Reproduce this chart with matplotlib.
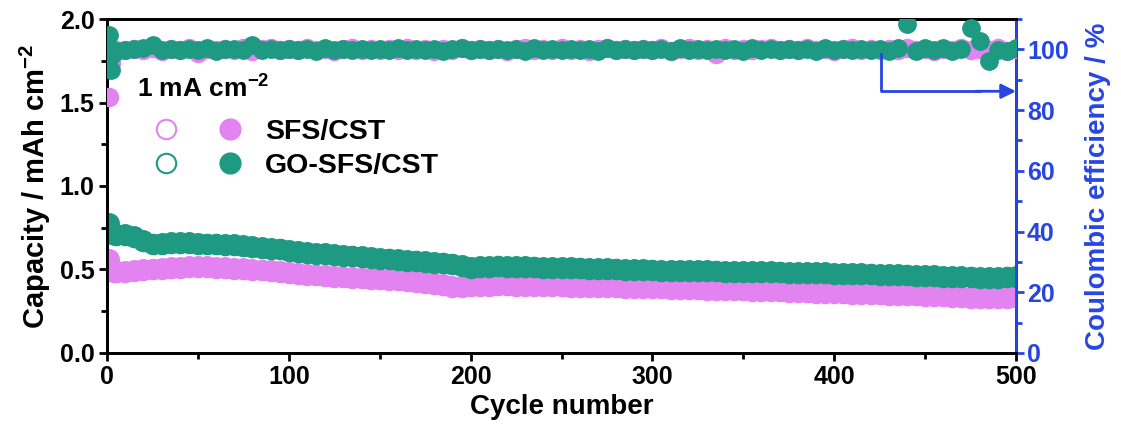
import matplotlib
matplotlib.use("Agg")
import matplotlib.pyplot as plt
from matplotlib.lines import Line2D
from matplotlib.legend_handler import HandlerTuple

plt.rcParams['font.family'] = ['Liberation Sans', 'DejaVu Sans']
plt.rcParams['font.weight'] = 'bold'
plt.rcParams['mathtext.fontset'] = 'custom'
plt.rcParams['mathtext.rm'] = 'Liberation Sans:bold'
plt.rcParams['mathtext.bf'] = 'Liberation Sans:bold'
plt.rcParams['mathtext.default'] = 'bf'

PINK = '#E383F2'
GREEN = '#1F9A82'
BLUE = '#2745E3'

cycles = [1, 2, 3, 4, 5] + list(range(10, 501, 5))

# GO-SFS/CST capacity (mAh cm-2)
go_dis = [0.78, 0.73, 0.72, 0.72, 0.71,
          0.71, 0.70, 0.675, 0.655, 0.66, 0.665, 0.665, 0.665, 0.66, 0.655,
          0.655, 0.65, 0.65, 0.645, 0.64, 0.635, 0.63, 0.625, 0.615, 0.61,
          0.605, 0.60, 0.597, 0.592, 0.588, 0.583, 0.578, 0.574, 0.57, 0.565,
          0.561, 0.557, 0.553, 0.55, 0.546, 0.541, 0.535, 0.527, 0.515, 0.518,
          0.522, 0.523, 0.521, 0.52, 0.519, 0.517, 0.516, 0.515, 0.514, 0.512,
          0.511, 0.51, 0.508, 0.507, 0.505, 0.504, 0.503, 0.501, 0.499, 0.498,
          0.497, 0.496, 0.495, 0.494, 0.494, 0.493, 0.492, 0.491, 0.49, 0.49,
          0.489, 0.488, 0.487, 0.486, 0.485, 0.484, 0.483, 0.482, 0.481, 0.48,
          0.479, 0.477, 0.476, 0.474, 0.473, 0.471, 0.47, 0.468, 0.466, 0.465,
          0.463, 0.462, 0.46, 0.458, 0.457, 0.456, 0.456, 0.458, 0.462]
go_chg = [0.72, 0.72, 0.715, 0.71, 0.705,
          0.705, 0.695, 0.67, 0.65, 0.655, 0.66, 0.66, 0.66, 0.655, 0.65,
          0.65, 0.645, 0.645, 0.64, 0.635, 0.63, 0.625, 0.62, 0.61, 0.605,
          0.60, 0.595, 0.592, 0.587, 0.583, 0.578, 0.573, 0.569, 0.565, 0.56,
          0.556, 0.552, 0.548, 0.545, 0.541, 0.536, 0.53, 0.522, 0.51, 0.513,
          0.517, 0.518, 0.516, 0.515, 0.514, 0.512, 0.511, 0.51, 0.509, 0.507,
          0.506, 0.505, 0.503, 0.502, 0.5, 0.499, 0.498, 0.496, 0.494, 0.493,
          0.492, 0.491, 0.49, 0.489, 0.489, 0.488, 0.487, 0.486, 0.485, 0.485,
          0.484, 0.483, 0.482, 0.481, 0.48, 0.479, 0.478, 0.477, 0.476, 0.475,
          0.474, 0.472, 0.471, 0.469, 0.468, 0.466, 0.465, 0.463, 0.461, 0.46,
          0.458, 0.457, 0.455, 0.453, 0.452, 0.451, 0.451, 0.453, 0.457]

# SFS/CST capacity (mAh cm-2)
sfs_dis = [0.56, 0.52, 0.50, 0.49, 0.49,
           0.49, 0.495, 0.50, 0.505, 0.51, 0.514, 0.516, 0.518, 0.519, 0.518,
           0.516, 0.513, 0.51, 0.507, 0.503, 0.499, 0.495, 0.489, 0.482, 0.478,
           0.474, 0.47, 0.466, 0.462, 0.458, 0.455, 0.452, 0.449, 0.446, 0.443,
           0.44, 0.436, 0.432, 0.427, 0.421, 0.412, 0.403, 0.401, 0.405, 0.408,
           0.409, 0.41, 0.41, 0.409, 0.408, 0.407, 0.406, 0.405, 0.404, 0.403,
           0.402, 0.401, 0.4, 0.399, 0.398, 0.397, 0.396, 0.395, 0.393, 0.392,
           0.39, 0.389, 0.387, 0.386, 0.385, 0.383, 0.382, 0.381, 0.38, 0.379,
           0.377, 0.376, 0.374, 0.372, 0.37, 0.368, 0.367, 0.365, 0.363, 0.362,
           0.36, 0.359, 0.358, 0.356, 0.355, 0.353, 0.352, 0.35, 0.348, 0.347,
           0.345, 0.343, 0.34, 0.337, 0.335, 0.334, 0.335, 0.337, 0.34]
sfs_chg = [0.53, 0.51, 0.495, 0.487, 0.487,
           0.487, 0.49, 0.496, 0.5, 0.505, 0.509, 0.511, 0.513, 0.514, 0.513,
           0.511, 0.508, 0.505, 0.502, 0.498, 0.494, 0.49, 0.484, 0.477, 0.473,
           0.469, 0.465, 0.461, 0.457, 0.453, 0.45, 0.447, 0.444, 0.441, 0.438,
           0.435, 0.431, 0.427, 0.422, 0.416, 0.407, 0.398, 0.396, 0.4, 0.403,
           0.404, 0.405, 0.405, 0.404, 0.403, 0.402, 0.401, 0.4, 0.399, 0.398,
           0.397, 0.396, 0.395, 0.394, 0.393, 0.392, 0.391, 0.39, 0.388, 0.387,
           0.385, 0.384, 0.382, 0.381, 0.38, 0.378, 0.377, 0.376, 0.375, 0.374,
           0.372, 0.371, 0.369, 0.367, 0.365, 0.363, 0.362, 0.36, 0.358, 0.357,
           0.355, 0.354, 0.353, 0.351, 0.35, 0.348, 0.347, 0.345, 0.343, 0.342,
           0.34, 0.338, 0.335, 0.332, 0.33, 0.329, 0.33, 0.332, 0.335]

# Coulombic efficiency (%)
sfs_ce = [84.3, 95.5, 99.0, 99.6, 99.8,
          99.9, 100.2, 99.7, 100.4, 99.6, 100.1, 99.8, 100.3, 98.8, 100.0,
          99.7, 100.2, 99.9, 100.3, 99.6, 100.0, 100.4, 99.8, 100.1, 99.7,
          100.3, 99.9, 100.2, 99.6, 100.0, 100.3, 99.8, 100.1, 99.7, 100.2,
          99.9, 100.4, 99.8, 100.0, 99.6, 100.2, 99.9, 100.3, 99.7, 100.1,
          99.8, 100.2, 99.6, 100.0, 100.3, 99.8, 100.1, 99.7, 100.4, 99.9,
          100.2, 99.6, 100.0, 100.3, 99.8, 100.1, 99.7, 100.2, 99.9, 100.3,
          99.6, 100.0, 100.4, 99.8, 100.1, 98.5, 100.3, 99.9, 100.2, 99.7,
          100.0, 100.3, 99.8, 100.1, 99.7, 100.4, 99.9, 100.2, 99.6, 100.0,
          100.3, 99.8, 100.1, 99.7, 100.2, 99.9, 100.4, 99.8, 100.0, 99.6,
          100.2, 99.9, 100.3, 99.7, 100.1, 99.8, 100.4, 99.6, 100.2]
go_ce = [104.7, 93.2, 98.5, 99.3, 99.6,
         99.8, 100.0, 100.4, 101.5, 99.9, 100.2, 99.7, 100.1, 99.8, 100.3,
         99.6, 100.0, 100.2, 99.8, 101.6, 99.9, 100.1, 99.7, 100.2, 99.8,
         100.0, 99.6, 100.3, 99.9, 100.1, 99.7, 100.2, 99.8, 100.0, 99.9,
         100.3, 99.7, 100.1, 99.8, 100.2, 99.6, 100.0, 100.3, 99.8, 100.1,
         99.7, 100.2, 99.9, 100.0, 99.6, 100.3, 99.8, 100.1, 99.7, 100.2,
         99.9, 100.0, 99.6, 100.3, 99.8, 100.1, 99.7, 100.2, 99.9, 100.0,
         99.6, 100.3, 99.8, 100.1, 99.7, 100.2, 99.9, 100.0, 99.6, 100.3,
         99.8, 100.1, 99.7, 100.2, 99.9, 100.0, 99.6, 100.3, 99.8, 100.1,
         99.7, 100.2, 99.9, 100.0, 99.3, 100.4, 108.2, 99.6, 100.6, 99.8,
         100.3, 99.6, 100.2, 107.2, 102.8, 96.2, 99.8, 99.5, 100.3]

fig = plt.figure(figsize=(11.21, 4.32), dpi=100)
ax = fig.add_axes([0.0955, 0.1829, 0.8108, 0.7731])
ax2 = ax.twinx()

ms = 14
# capacity
ax.plot(cycles, sfs_chg, 'o', ms=ms, mfc='white', mec=PINK, mew=1.5, zorder=3)
ax.plot(cycles, sfs_dis, 'o', ms=ms, mfc=PINK, mec=PINK, zorder=4)
ax.plot(cycles, go_chg, 'o', ms=ms, mfc='white', mec=GREEN, mew=1.5, zorder=5)
ax.plot(cycles, go_dis, 'o', ms=ms, mfc=GREEN, mec=GREEN, zorder=6)
# CE
ax2.plot(cycles, sfs_ce, 'o', ms=13, mfc=PINK, mec=PINK, zorder=3)
ax2.plot(cycles, go_ce, 'o', ms=12.5, mfc=GREEN, mec=GREEN, zorder=4)

# arrow pointing to CE axis
ax2.plot([426, 426, 480], [98.5, 86.2, 86.2], color=BLUE, lw=2, zorder=7)
ax2.annotate('', xy=(500, 86.2), xytext=(478, 86.2),
             arrowprops=dict(arrowstyle='-|>', color=BLUE, lw=2,
                             mutation_scale=22, shrinkA=0, shrinkB=0),
             zorder=7)

ax.set_xlim(0, 500)
ax.set_ylim(0, 2.0)
ax2.set_ylim(0, 110)
ax.set_xticks(range(0, 501, 100))
ax.set_xticks(range(50, 500, 100), minor=True)
ax.set_yticks([0.0, 0.5, 1.0, 1.5, 2.0])
ax.set_yticklabels(['0.0', '0.5', '1.0', '1.5', '2.0'])
ax.set_yticks([0.25, 0.75, 1.25, 1.75], minor=True)
ax2.set_yticks(range(0, 101, 20))
ax2.set_yticks(range(10, 111, 20), minor=True)

for a in (ax, ax2):
    for s in a.spines.values():
        s.set_linewidth(2)
ax2.spines['right'].set_color(BLUE)
ax.tick_params(axis='both', which='major', direction='out', length=6, width=2,
               labelsize=18, pad=3)
ax.tick_params(axis='both', which='minor', direction='out', length=4, width=2)
ax2.tick_params(axis='y', which='major', direction='out', length=6, width=2,
                labelsize=18, colors=BLUE, pad=2)
ax2.tick_params(axis='y', which='minor', direction='out', length=4, width=2,
                colors=BLUE)
for lab in ax.get_xticklabels() + ax.get_yticklabels() + ax2.get_yticklabels():
    lab.set_fontweight('bold')

ax.set_xlabel('Cycle number', fontsize=20, fontweight='bold', labelpad=3)
ax.set_ylabel('Capacity / mAh cm$^{-2}$', fontsize=21, fontweight='bold', labelpad=5)
ax2.set_ylabel('Coulombic efficiency / %', fontsize=20, fontweight='bold',
               color=BLUE, labelpad=12)

ax.text(0.033, 0.79, '1 mA cm$^{-2}$', transform=ax.transAxes,
        fontsize=19, fontweight='bold', va='center', ha='left')

h_sfs = (Line2D([], [], ls='none', marker='o', ms=14, mfc='white', mec=PINK, mew=1.5),
         Line2D([], [], ls='none', marker='o', ms=15, mfc=PINK, mec=PINK))
h_go = (Line2D([], [], ls='none', marker='o', ms=14, mfc='white', mec=GREEN, mew=1.5),
        Line2D([], [], ls='none', marker='o', ms=15, mfc=GREEN, mec=GREEN))
leg = ax.legend([h_sfs, h_go], ['SFS/CST', 'GO-SFS/CST'],
                handler_map={tuple: HandlerTuple(ndivide=None, pad=1.5)},
                loc='upper left', bbox_to_anchor=(0.041, 0.735), frameon=False,
                handlelength=3.0, handletextpad=0.85, labelspacing=0.3,
                prop=dict(size=20.5, weight='bold'), borderaxespad=0)
leg.set_zorder(10)

fig.savefig('out.png', dpi=100)
